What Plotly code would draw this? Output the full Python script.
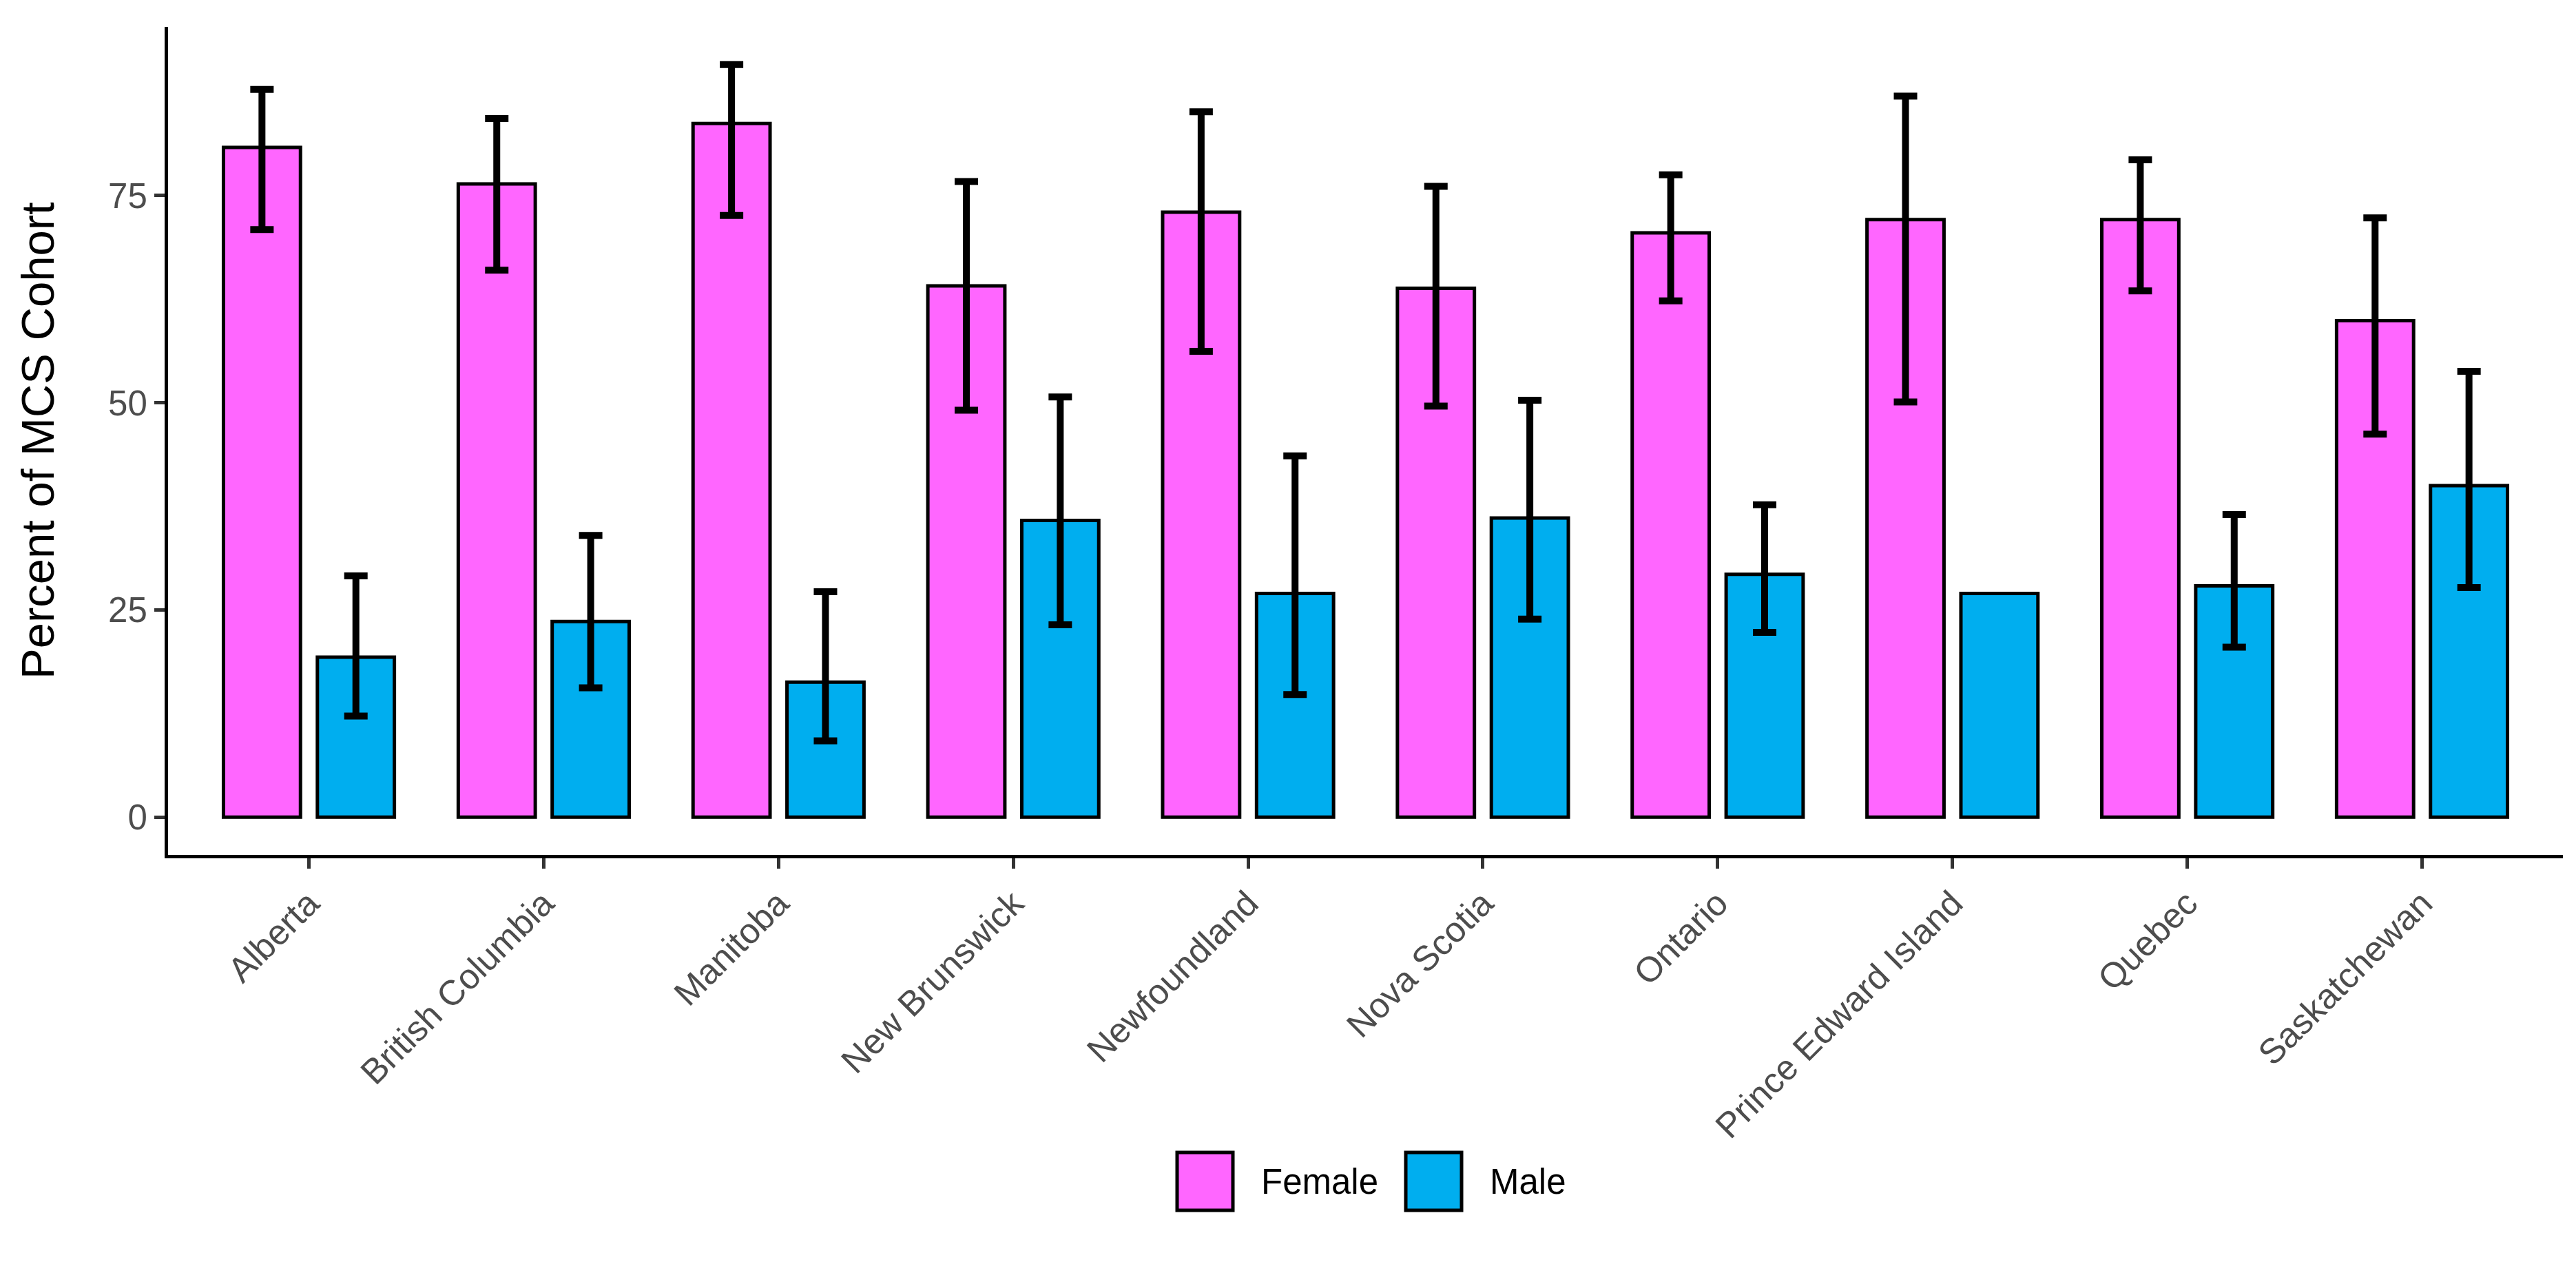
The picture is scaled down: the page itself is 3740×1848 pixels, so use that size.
import plotly.graph_objects as go

provinces = ["Alberta", "British Columbia", "Manitoba", "New Brunswick", "Newfoundland",
             "Nova Scotia", "Ontario", "Prince Edward Island", "Quebec", "Saskatchewan"]

female = [80.8, 76.4, 83.7, 64.1, 73.0, 63.8, 70.5, 72.1, 72.1, 59.9]
female_lo = [70.9, 66.0, 72.6, 49.1, 56.2, 49.6, 62.3, 50.1, 63.5, 46.2]
female_hi = [87.8, 84.3, 90.8, 76.7, 85.1, 76.1, 77.5, 87.0, 79.3, 72.3]

male = [19.3, 23.6, 16.3, 35.8, 27.0, 36.1, 29.3, 27.0, 27.9, 40.0]
male_lo = [12.2, 15.6, 9.2, 23.2, 14.8, 23.9, 22.3, None, 20.5, 27.7]
male_hi = [29.1, 34.0, 27.2, 50.7, 43.6, 50.3, 37.7, None, 36.5, 53.8]

FEMALE_COLOR = "#FF66FF"
MALE_COLOR = "#00AEEF"
FONT = "Liberation Sans, Arial, sans-serif"

W, H = 3740, 1848
L, R, T, B = 236, 3713, 31, 1233


def px_x(p):
    return (p - L) / (R - L)


def px_y(p):
    return (B - p) / (B - T)


fig = go.Figure()
for name, vals, lo, hi, col in [("Female", female, female_lo, female_hi, FEMALE_COLOR),
                                ("Male", male, male_lo, male_hi, MALE_COLOR)]:
    # visible bars
    fig.add_trace(go.Bar(
        name=name, x=provinces, y=vals, offsetgroup=name,
        marker=dict(color=col, line=dict(color="black", width=5)),
        showlegend=False,
    ))
    # error bars (only where an interval exists), overlaid in the same slot
    keep = [i for i in range(len(provinces)) if lo[i] is not None and hi[i] is not None]
    fig.add_trace(go.Bar(
        name=name + " CI", x=[provinces[i] for i in keep], y=[vals[i] for i in keep],
        offsetgroup=name,
        marker=dict(color="rgba(0,0,0,0)", line=dict(width=0)),
        error_y=dict(type="data", symmetric=False,
                     array=[hi[i] - vals[i] for i in keep],
                     arrayminus=[vals[i] - lo[i] for i in keep],
                     color="black", thickness=10, width=17),
        showlegend=False, hoverinfo="skip",
    ))

# manual legend (ggplot-style large keys)
legend_items = [("Female", FEMALE_COLOR, 1701, 1782, 1821),
                ("Male", MALE_COLOR, 2033, 2114, 2153)]
for label, col, x0, x1, tx in legend_items:
    fig.add_shape(type="rect", xref="paper", yref="paper",
                  x0=px_x(x0), x1=px_x(x1), y0=px_y(1749), y1=px_y(1665),
                  fillcolor=col, line=dict(color="black", width=5))
    fig.add_annotation(xref="paper", yref="paper", x=px_x(tx), y=px_y(1707),
                       xanchor="left", yanchor="middle", showarrow=False,
                       text=label, font=dict(family=FONT, size=51, color="black"))

fig.add_annotation(xref="paper", yref="paper", x=px_x(46), y=0.5,
                   xanchor="center", yanchor="middle", showarrow=False,
                   text="Percent of MCS Cohort", textangle=-90,
                   font=dict(family=FONT, size=67, color="black"))

fig.update_layout(
    width=W, height=H,
    margin=dict(l=L, r=W - R, t=T, b=H - B, autoexpand=False),
    paper_bgcolor="white", plot_bgcolor="white",
    barmode="group", bargap=0.2, bargroupgap=0.18,
    font=dict(family=FONT),
    showlegend=False,
)
fig.update_xaxes(
    type="category", range=[-0.6, 9.6],
    showline=True, linecolor="black", linewidth=5,
    ticks="outside", ticklen=15, tickwidth=5, tickcolor="#333333",
    tickangle=-45, tickfont=dict(family=FONT, size=51, color="#4D4D4D"),
    showgrid=False, zeroline=False,
)
fig.update_yaxes(
    range=[-4.55, 95.35], tickvals=[0, 25, 50, 75],
    showline=True, linecolor="black", linewidth=5,
    ticks="outside", ticklen=15, tickwidth=5, tickcolor="#333333",
    tickfont=dict(family=FONT, size=51, color="#4D4D4D"),
    showgrid=False, zeroline=False,
)

fig.write_html("out.html")
